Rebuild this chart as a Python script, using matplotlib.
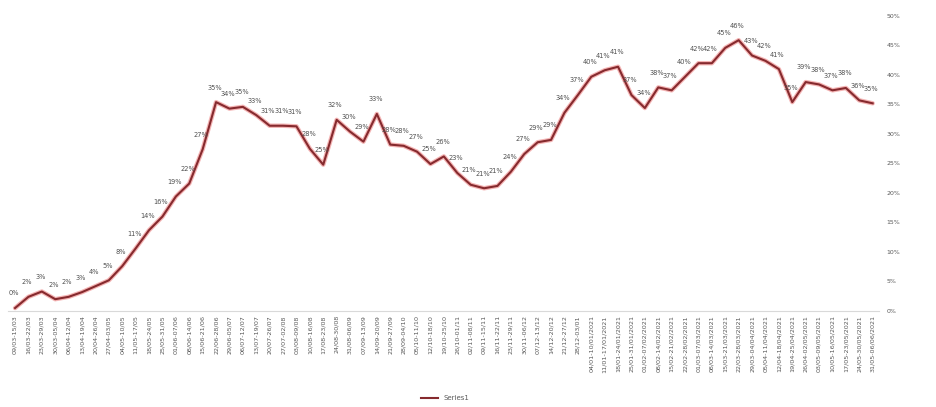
import matplotlib.pyplot as plt
from matplotlib.ticker import FuncFormatter

# weekly share (%)
weeks = [
    "09/03-15/03", "16/03-22/03", "23/03-29/03", "30/03-05/04", "06/04-12/04",
    "13/04-19/04", "20/04-26/04", "27/04-03/05", "04/05-10/05", "11/05-17/05",
    "18/05-24/05", "25/05-31/05", "01/06-07/06", "08/06-14/06", "15/06-21/06",
    "22/06-28/06", "29/06-05/07", "06/07-12/07", "13/07-19/07", "20/07-26/07",
    "27/07-02/08", "03/08-09/08", "10/08-16/08", "17/08-23/08", "24/08-30/08",
    "31/08-06/09", "07/09-13/09", "14/09-20/09", "21/09-27/09", "28/09-04/10",
    "05/10-11/10", "12/10-18/10", "19/10-25/10", "26/10-01/11", "02/11-08/11",
    "09/11-15/11", "16/11-22/11", "23/11-29/11", "30/11-06/12", "07/12-13/12",
    "14/12-20/12", "21/12-27/12", "28/12-03/01",
    "04/01-10/01/2021", "11/01-17/01/2021", "18/01-24/01/2021", "25/01-31/01/2021",
    "01/02-07/02/2021", "08/02-14/02/2021", "15/02-21/02/2021", "22/02-28/02/2021",
    "01/03-07/03/2021", "08/03-14/03/2021", "15/03-21/03/2021", "22/03-28/03/2021",
    "29/03-04/04/2021", "05/04-11/04/2021", "12/04-18/04/2021", "19/04-25/04/2021",
    "26/04-02/05/2021", "03/05-09/05/2021", "10/05-16/05/2021", "17/05-23/05/2021",
    "24/05-30/05/2021", "31/05-06/06/2021",
]
share = [
    0.5, 2.4, 3.3, 2.0, 2.4, 3.2, 4.2, 5.2, 7.6, 10.6,
    13.7, 16.0, 19.4, 21.6, 27.4, 35.4, 34.3, 34.6, 33.2, 31.4,
    31.4, 31.3, 27.5, 24.8, 32.4, 30.4, 28.7, 33.4, 28.2, 28.0,
    27.0, 24.9, 26.2, 23.4, 21.4, 20.8, 21.2, 23.6, 26.6, 28.6,
    29.0, 33.6, 36.6, 39.7, 40.8, 41.4, 36.6, 34.4, 37.9, 37.4,
    39.7, 42.0, 42.0, 44.6, 45.9, 43.3, 42.4, 41.0, 35.4, 38.8,
    38.4, 37.4, 37.8, 35.7, 35.2,
]
series_name = "Series1"

fig = plt.figure(figsize=(9.37, 4.07), dpi=100)
ax = fig.add_axes([0.0089, 0.2359, 0.9296, 0.7248])

x = list(range(len(share)))
# soft halo under the line, then the dark red line itself
ax.plot(x, share, color="#f4b4b4", lw=3.2, solid_capstyle="round", zorder=2)
ax.plot(x, share, color="#862a2e", lw=1.5, label=series_name, zorder=3)

for i, v in zip(x, share):
    ax.annotate(f"{round(v):.0f}%", (i, v), xytext=(-1, 10.5), textcoords="offset points",
                ha="center", va="center", fontsize=4.8, color="#505050", zorder=4)

ax.set_xlim(-0.5, len(share) - 0.5)
ax.set_ylim(0, 50)
ax.set_yticks(range(0, 51, 5))
ax.yaxis.set_major_formatter(FuncFormatter(lambda v, p: f"{v:.0f}%"))
ax.yaxis.tick_right()
ax.tick_params(axis="y", length=0, pad=5, labelsize=4.5, labelcolor="#595959")

ax.set_xticks(x)
ax.set_xticklabels(weeks, rotation=90, fontsize=4.6, color="#595959")
ax.tick_params(axis="x", length=0, pad=3)

for side in ["top", "left", "right"]:
    ax.spines[side].set_visible(False)
ax.spines["bottom"].set_color("#d9d9d9")
ax.spines["bottom"].set_linewidth(0.8)

fig.legend(loc="upper center", bbox_to_anchor=(0.475, 0.045), frameon=False,
           fontsize=5, labelcolor="#595959", handlelength=2.5)

fig.savefig("out.png", dpi=100)
